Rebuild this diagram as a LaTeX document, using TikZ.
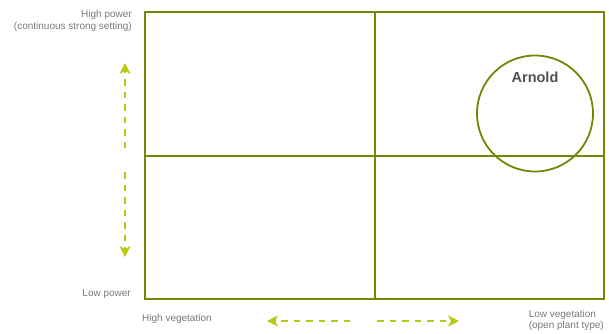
\documentclass[tikz,border=0pt]{standalone}
\usepackage{fontspec}
\setmainfont{Liberation Sans}
\usetikzlibrary{arrows.meta}
\definecolor{frame}{RGB}{112,136,4}
\definecolor{arrowc}{RGB}{184,201,20}
\definecolor{lbl}{RGB}{120,120,120}
\definecolor{dark}{RGB}{80,80,80}
\begin{document}
\begin{tikzpicture}[x=1pt,y=-1pt,
  frameline/.style={draw=frame,line width=2pt},
  dasharrow/.style={draw=arrowc,line width=1.1pt,dash pattern=on 6.5pt off 6pt,-{Stealth[length=11pt,width=11pt,inset=3pt]}},
  lab/.style={font=\fontsize{10}{11.5}\selectfont,text=lbl,inner sep=0pt}]
\useasboundingbox (0,0) rectangle (609,333);
\draw[frameline] (145,12) rectangle (604,299);
\coordinate (mt) at (375,12);
\coordinate (mb) at (375,299);
\coordinate (ml) at (145,156);
\coordinate (mr) at (604,156);
\draw[frameline] (mt) -- (mb);
\draw[frameline] (ml) -- (mr);
\node[draw=frame,line width=1.8pt,circle,minimum size=116pt,inner sep=0pt] (arnold) at (535,113.5) {};
\node[font=\fontsize{14.5}{16}\selectfont\bfseries,text=dark,inner sep=0pt] (arnoldlbl) at (535,77) {Arnold};
\coordinate (vu0) at (125,148);
\coordinate (vu1) at (125,63);
\coordinate (vd0) at (125,172);
\coordinate (vd1) at (125,257);
\draw[dasharrow] (vu0) -- (vu1);
\draw[dasharrow] (vd0) -- (vd1);
\coordinate (hl0) at (350,321);
\coordinate (hl1) at (267,321);
\coordinate (hr0) at (377,321);
\coordinate (hr1) at (459,321);
\draw[dasharrow] (hl0) -- (hl1);
\draw[dasharrow] (hr0) -- (hr1);
\node[lab,anchor=east,align=right] (hp) at (132,21) {High power\\(continuous strong setting)};
\node[lab,anchor=east] (lp) at (131,294) {Low power};
\node[lab,anchor=west] (hv) at (142,319) {High vegetation};
\node[lab,anchor=east,align=left] (lv) at (604,320.5) {Low vegetation\\(open plant type)};
\end{tikzpicture}
\end{document}
